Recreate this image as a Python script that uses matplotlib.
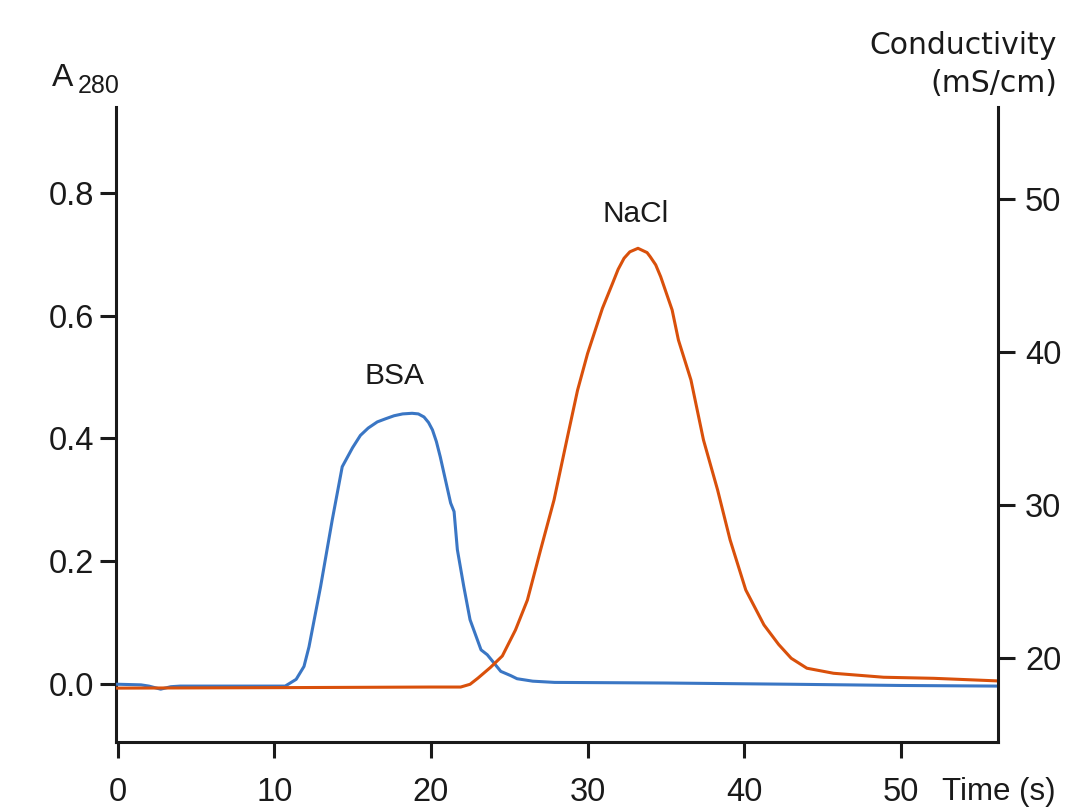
import numpy as np
import matplotlib.pyplot as plt

plt.rcParams.update({
    "font.family": ["Liberation Sans", "DejaVu Sans"],
    "text.color": "#1a1a1a",
    "axes.edgecolor": "#1a1a1a",
    "xtick.color": "#1a1a1a",
    "ytick.color": "#1a1a1a",
})

# BSA absorbance trace (left axis)
bsa_time = [0, 1.5, 2.0, 2.75, 3.4, 4.0, 6, 9, 10.7, 11.4, 11.9, 12.22, 12.96, 13.7, 14.34,
            15.0, 15.5, 16.0, 16.58, 17.1, 17.65, 18.2, 18.8, 19.2, 19.56, 19.85, 20.1,
            20.35, 20.6, 21.26, 21.48, 21.69, 22.1, 22.5, 23.2, 23.6, 24.46, 25.1, 25.5,
            26.5, 27.9, 35, 43, 50, 56.2]
bsa_a280 = [0.0, -0.001, -0.003, -0.008, -0.004, -0.003, -0.003, -0.003, -0.003, 0.008,
            0.029, 0.061, 0.159, 0.267, 0.354, 0.385, 0.405, 0.417, 0.427, 0.432, 0.437,
            0.440, 0.441, 0.440, 0.435, 0.426, 0.414, 0.395, 0.370, 0.295, 0.281, 0.219,
            0.159, 0.105, 0.056, 0.048, 0.021, 0.014, 0.009, 0.005, 0.003, 0.002, 0.0,
            -0.002, -0.003]

# NaCl conductivity trace (right axis)
nacl_time = [0, 10, 20, 21.9, 22.5, 23.0, 23.8, 24.56, 25.4, 26.16, 27.0, 27.86, 28.72,
             29.36, 30.0, 30.95, 31.6, 31.95, 32.33, 32.7, 33.22, 33.8, 34.0, 34.35, 34.67,
             35.4, 35.8, 36.6, 37.4, 38.3, 39.1, 40.1, 41.26, 42.2, 43.0, 44.0, 45.7, 48.9,
             52.1, 56.2]
nacl_cond = [18.05, 18.08, 18.12, 18.12, 18.3, 18.7, 19.4, 20.15, 21.85, 23.8, 27.07,
             30.34, 34.47, 37.5, 39.9, 42.86, 44.5, 45.4, 46.13, 46.55, 46.78, 46.5, 46.23,
             45.7, 44.92, 42.75, 40.79, 38.18, 34.26, 31.0, 27.73, 24.46, 22.18, 20.9,
             20.0, 19.35, 19.02, 18.76, 18.69, 18.52]

x_ticks = [0, 10, 20, 30, 40, 50]
left_ticks = [0.0, 0.2, 0.4, 0.6, 0.8]
left_labels = ["0.0", "0.2", "0.4", "0.6", "0.8"]
right_ticks = [20, 30, 40, 50]

W, H = 1068, 807
fig = plt.figure(figsize=(W / 100, H / 100), dpi=100)
ax = fig.add_axes([116 / W, 1 - 742 / H, (998 - 116) / W, (742 - 106.7) / H])
ax2 = ax.twinx()

blue = "#3a76c4"
orange = "#d9500b"

ax.plot(bsa_time, bsa_a280, color=blue, lw=2.2, zorder=3, solid_joinstyle="round")
ax2.plot(nacl_time, nacl_cond, color=orange, lw=2.2, zorder=2, solid_joinstyle="round")

ax.set_xlim(-0.1, 56.2)
ax.set_ylim(-0.094, 0.94)
ax2.set_ylim(14.53, 56.03)

for s in ["top", "right"]:
    ax.spines[s].set_visible(False)
for s in ["top", "left", "bottom"]:
    ax2.spines[s].set_visible(False)
ax.spines["left"].set_linewidth(2.2)
ax.spines["bottom"].set_linewidth(2.2)
ax2.spines["right"].set_linewidth(2.2)

ax.set_xticks(x_ticks)
ax.set_yticks(left_ticks)
ax.set_yticklabels(left_labels)
ax2.set_yticks(right_ticks)

ax.tick_params(axis="x", direction="out", length=11.5, width=2.2, pad=14, labelsize=23.5)
ax.tick_params(axis="y", direction="out", length=11.5, width=2.2, pad=4.3, labelsize=23.5)
ax2.tick_params(axis="y", direction="out", length=12.5, width=2.2, pad=7, labelsize=23.5)

# peak labels
ax.text(17.66, 0.488, "BSA", ha="center", va="baseline", fontsize=21.5)
ax2.text(33.1, 48.5, "NaCl", ha="center", va="baseline", fontsize=21.5)

# axis titles
fig.text(52 / W, 1 - 86 / H, "A", ha="left", va="baseline", fontsize=23)
fig.text(78 / W, 1 - 93 / H, "280", ha="left", va="baseline", fontsize=18)
fig.text(1057 / W, 1 - 54.3 / H, "Conductivity", ha="right", va="baseline",
         fontsize=21.5, family="DejaVu Sans")
fig.text(1057 / W, 1 - 91.7 / H, "(mS/cm)", ha="right", va="baseline",
         fontsize=21.5, family="DejaVu Sans")
fig.text(942 / W, 1 - 800 / H, "Time (s)", ha="left", va="baseline", fontsize=22.5)

fig.savefig("out.png", dpi=100)
